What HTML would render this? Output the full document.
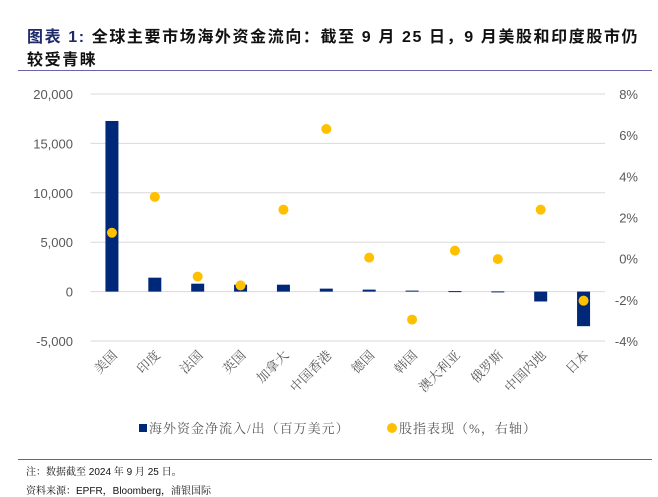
<!DOCTYPE html>
<html><head><meta charset="utf-8"><style>
body{margin:0;background:#fff;width:658px;height:487px;overflow:hidden;font-family:"Liberation Sans","Noto Sans CJK SC",sans-serif;}
.t{position:absolute;left:27px;font-size:16px;font-weight:bold;color:#111;line-height:23px;letter-spacing:1.6px;}
</style></head><body>
<div class="t" style="top:26px;width:628px;"><span style="color:#1f2a6b">图表 1:</span> 全球主要市场海外资金流向：截至 9 月 25 日，9 月美股和印度股市仍较受青睐</div>
<div style="position:absolute;left:18px;top:70px;width:634px;height:1px;background:#6a64a8"></div>
<svg id="c" width="658" height="487" style="position:absolute;left:0;top:0"></svg>
<div style="position:absolute;left:18px;top:459px;width:634px;height:1px;background:#4a6aa8"></div>
<div style="position:absolute;left:26px;top:463px;font-size:10px;color:#111;font-family:'Liberation Sans','Noto Serif CJK SC',serif">注：数据截至 2024 年 9 月 25 日。</div>
<div style="position:absolute;left:26px;top:482px;font-size:10px;color:#111;font-family:'Liberation Sans','Noto Serif CJK SC',serif">资料来源：EPFR，Bloomberg，浦银国际</div>
<script>
const categories=["美国","印度","法国","英国","加拿大","中国香港","德国","韩国","澳大利亚","俄罗斯","中国内地","日本"];
const flows=[17270,1410,800,700,700,300,200,100,50,20,-1000,-3500];
const perf=[1.26,3.0,-0.87,-1.3,2.38,6.3,0.05,-2.96,0.39,-0.02,2.38,-2.04];
const leftTicks=[20000,15000,10000,5000,0,-5000];
const rightTicks=[8,6,4,2,0,-2,-4];
const NS="http://www.w3.org/2000/svg",svg=document.getElementById('c');
const x0=90.5,x1=605,yTop=94,yBot=341;
const yL=v=>yTop+(20000-v)/25000*(yBot-yTop);
const yR=v=>yTop+(8-v)/12*(yBot-yTop);
const step=(x1-x0)/categories.length;
const xc=i=>x0+step*(i+0.5);
const serif="'Liberation Serif','Noto Serif CJK SC',serif";
function el(t,a,txt){const e=document.createElementNS(NS,t);for(const k in a)e.setAttribute(k,a[k]);if(txt!=null)e.textContent=txt;svg.appendChild(e);return e;}
leftTicks.forEach(v=>{
 const g=el('line',{x1:x0,x2:x1,y1:yL(v),y2:yL(v),stroke:'#d9d9d9','stroke-width':1});
 
 
 const t=el('text',{x:73,y:yL(v)+5,'text-anchor':'end','font-size':13,fill:'#595959'},v.toLocaleString('en-US'));
 
 
});
rightTicks.forEach(v=>{
 const t=el('text',{x:638,y:yR(v)+5,'text-anchor':'end','font-size':13,fill:'#595959'},v+'%');
 
 
});
flows.forEach((v,i)=>{
 const y=Math.min(yL(v),yL(0)),h=Math.abs(yL(v)-yL(0));
 const r=el('rect',{x:xc(i)-6.5,y:y,width:13,height:Math.max(h,1),fill:'#002878'});
 
 
});
perf.forEach((v,i)=>{
 const c=el('circle',{cx:xc(i),cy:yR(v),r:5,fill:'#ffc000'});
 
 
});
categories.forEach((c,i)=>{
 const x=xc(i)+6,y=356;
 const t=el('text',{x:x,y:y,'text-anchor':'end','font-size':13,fill:'#595959','font-family':serif,transform:`rotate(-45 ${x} ${y})`},c);
 
 
});
let r=el('rect',{x:139,y:424,width:8,height:8,fill:'#002878'});


let t=el('text',{x:149,y:433,'font-size':13,fill:'#595959','font-family':serif,'letter-spacing':1},'海外资金净流入/出（百万美元）');


let c=el('circle',{cx:392,cy:428,r:5,fill:'#ffc000'});


t=el('text',{x:399,y:433,'font-size':13,fill:'#595959','font-family':serif,'letter-spacing':1},'股指表现（%，右轴）');


</script>
</body></html>
